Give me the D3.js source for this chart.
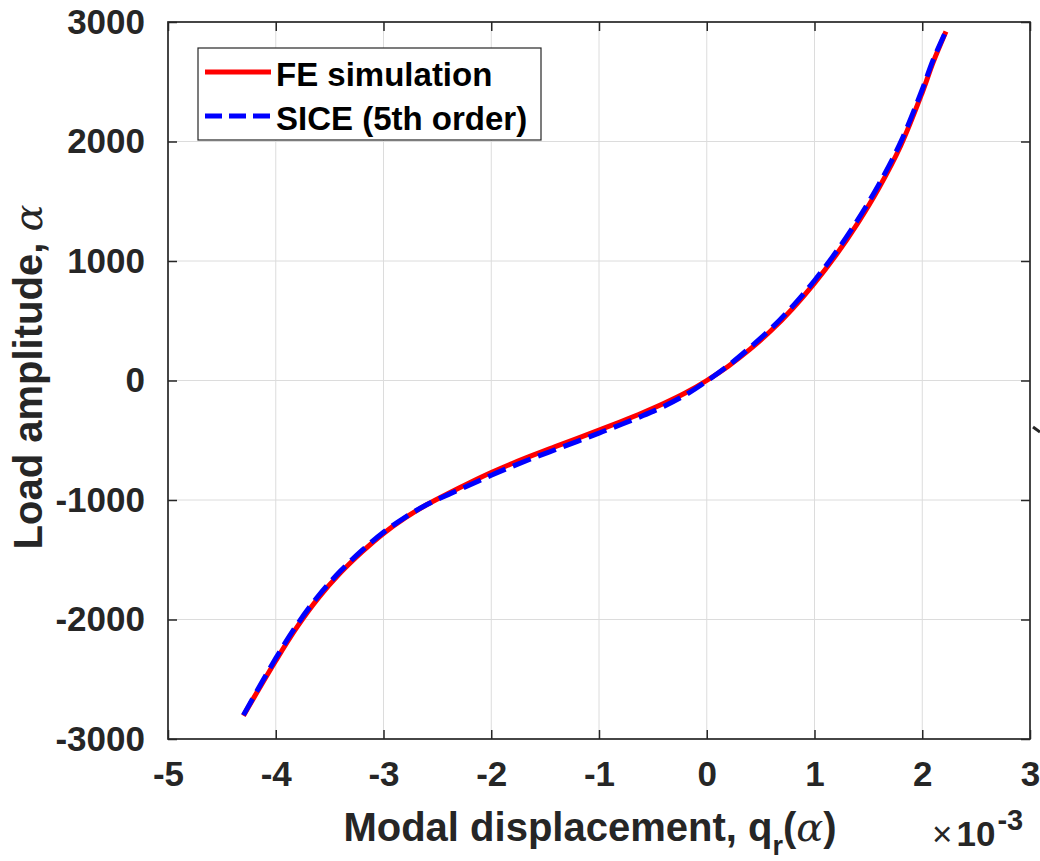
<!DOCTYPE html>
<html>
<head>
<meta charset="utf-8">
<script src="https://cdn.jsdelivr.net/npm/d3@7"></script>
<style>
  body { margin: 0; background: #fff; }
  svg { display: block; }
</style>
</head>
<body>
<div id="chart"></div>
<script>
// modal displacement (x 1e-3) and load amplitude
const feX = [-4.30, -4.0, -3.8, -3.6, -3.4, -3.2, -3.0, -2.8, -2.6, -2.4, -2.2, -2.0, -1.8, -1.6, -1.4, -1.2,
             -1.0, -0.8, -0.6, -0.4, -0.2, 0.0, 0.2, 0.4, 0.6, 0.8, 1.0, 1.2, 1.4, 1.6, 1.8, 2.0, 2.1, 2.22];
const feY = [-2805, -2345, -2060, -1815, -1610, -1435, -1280, -1150, -1040, -945, -855, -770, -692, -620, -552, -484,
             -415, -345, -272, -193, -105, 0, 120, 260, 420, 605, 815, 1050, 1315, 1615, 1965, 2410, 2660, 2920];
const siceX = feX;
const siceY = [-2800, -2325, -2040, -1797, -1595, -1422, -1270, -1145, -1040, -955, -875, -793, -717, -645, -577, -509,
               -440, -370, -297, -217, -122, -5, 125, 275, 437, 625, 837, 1075, 1343, 1645, 1995, 2435, 2680, 2925];
const xTicks = [-5, -4, -3, -2, -1, 0, 1, 2, 3];
const yTicks = [-3000, -2000, -1000, 0, 1000, 2000, 3000];
const legendLabels = ["FE simulation", "SICE (5th order)"];

const W = 1040, H = 861;
const margin = { top: 22, right: 10, bottom: 122, left: 168 };
const w = W - margin.left - margin.right;
const h = H - margin.top - margin.bottom;
const ink = "#262626";
const sans = "'Liberation Sans', Arial, Helvetica, sans-serif";
const serif = "'DejaVu Serif', 'Liberation Serif', serif";
const plain = d => String(d);

const svg = d3.select("#chart").append("svg").attr("width", W).attr("height", H);
const g = svg.append("g").attr("transform", `translate(${margin.left}, ${margin.top})`);

const x = d3.scaleLinear().domain([-5, 3]).range([0, w]);
const y = d3.scaleLinear().domain([-3000, 3000]).range([h, 0]);

// grid
g.append("g").selectAll("line").data(xTicks.slice(1, -1)).join("line")
    .attr("x1", d => x(d)).attr("x2", d => x(d)).attr("y1", 0).attr("y2", h)
    .attr("stroke", "#dcdcdc").attr("stroke-width", 1);
g.append("g").selectAll("line").data(yTicks.slice(1, -1)).join("line")
    .attr("y1", d => y(d)).attr("y2", d => y(d)).attr("x1", 0).attr("x2", w)
    .attr("stroke", "#dcdcdc").attr("stroke-width", 1);

// curves
const line = d3.line().x(d => x(d[0])).y(d => y(d[1])).curve(d3.curveCatmullRom.alpha(0.5));
g.append("path").datum(d3.zip(feX, feY)).attr("d", line)
    .attr("fill", "none").attr("stroke", "#ff0000").attr("stroke-width", 5);
g.append("path").datum(d3.zip(siceX, siceY)).attr("d", line)
    .attr("fill", "none").attr("stroke", "#0000ff").attr("stroke-width", 5)
    .attr("stroke-dasharray", "19,8");

// axes (ticks inward on all four sides)
const styleAxis = sel => {
    sel.select(".domain").remove();
    sel.selectAll(".tick line").attr("stroke", ink).attr("stroke-width", 1.5);
    sel.selectAll(".tick text").attr("fill", ink).attr("font-family", sans)
        .attr("font-weight", "bold").attr("font-size", 35);
};
g.append("g").attr("transform", `translate(0, ${h})`)
    .call(d3.axisBottom(x).tickValues(xTicks).tickSize(-9).tickPadding(22).tickFormat(plain))
    .call(styleAxis);
g.append("g")
    .call(d3.axisTop(x).tickValues(xTicks).tickSize(-9).tickFormat(""))
    .call(styleAxis);
g.append("g")
    .call(d3.axisLeft(y).tickValues(yTicks).tickSize(-9).tickPadding(23).tickFormat(plain))
    .call(styleAxis);
g.append("g").attr("transform", `translate(${w}, 0)`)
    .call(d3.axisRight(y).tickValues(yTicks).tickSize(-9).tickFormat(""))
    .call(styleAxis);
g.append("rect").attr("width", w).attr("height", h)
    .attr("fill", "none").attr("stroke", ink).attr("stroke-width", 1.7);

// legend
const leg = svg.append("g").attr("transform", "translate(198, 48)");
leg.append("rect").attr("width", 343).attr("height", 92)
    .attr("fill", "#fff").attr("stroke", ink).attr("stroke-width", 1.2);
const rows = leg.selectAll("g.row").data(legendLabels).join("g")
    .attr("transform", (d, i) => `translate(0, ${24 + i * 44})`);
rows.append("line").attr("x1", 7).attr("x2", 73)
    .attr("stroke", (d, i) => i ? "#0000ff" : "#ff0000").attr("stroke-width", 5)
    .attr("stroke-dasharray", (d, i) => i ? "17,7" : null);
rows.append("text").attr("x", 78).attr("y", 14)
    .attr("font-family", sans).attr("font-weight", "bold").attr("font-size", 33)
    .attr("fill", "#000").text(d => d);

// axis labels
const xl = svg.append("text").attr("x", 590).attr("y", 841).attr("text-anchor", "middle")
    .attr("font-family", sans).attr("font-weight", "bold").attr("font-size", 40).attr("fill", ink);
xl.append("tspan").text("Modal displacement, q");
xl.append("tspan").attr("dy", 14).attr("font-size", 27).text("r");
xl.append("tspan").attr("dy", -14).text("(");
xl.append("tspan").attr("font-family", serif).attr("font-style", "italic").attr("font-weight", "normal").text("α");
xl.append("tspan").text(")");

const yl = svg.append("text").attr("transform", "translate(42, 377) rotate(-90)").attr("text-anchor", "middle")
    .attr("font-family", sans).attr("font-weight", "bold").attr("font-size", 40).attr("fill", ink);
yl.append("tspan").text("Load amplitude, ");
yl.append("tspan").attr("font-family", serif).attr("font-style", "italic").attr("font-weight", "normal").text("α");

// exponent
const ex = svg.append("text").attr("x", 932).attr("y", 846)
    .attr("font-family", sans).attr("font-weight", "bold").attr("font-size", 35).attr("fill", ink);
ex.append("tspan").attr("font-weight", "normal").text("×");
ex.append("tspan").attr("dx", 4).text("10");
ex.append("tspan").attr("dx", 2).attr("dy", -16).attr("font-size", 29).text("-3");

// stray clipped mark at the right edge of the figure
svg.append("line").attr("x1", 1033).attr("y1", 427).attr("x2", 1040).attr("y2", 432)
    .attr("stroke", ink).attr("stroke-width", 3);
</script>
</body>
</html>
